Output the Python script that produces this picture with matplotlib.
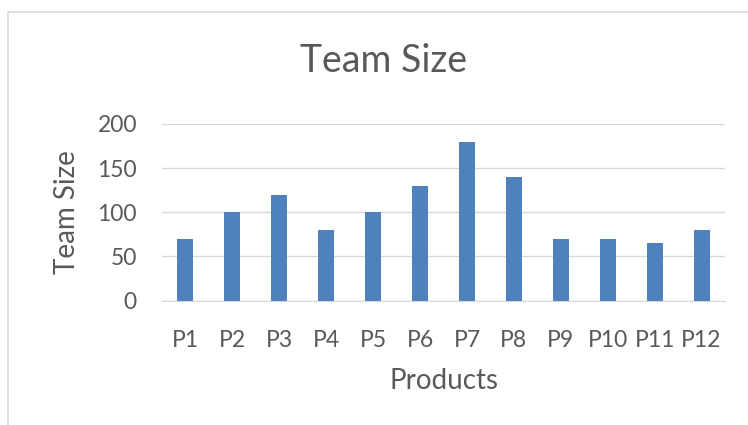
import matplotlib
matplotlib.use("Agg")
import matplotlib.pyplot as plt
from matplotlib.patches import Rectangle

categories = ["P1", "P2", "P3", "P4", "P5", "P6", "P7", "P8", "P9", "P10", "P11", "P12"]
team_size = [70, 100, 120, 80, 100, 130, 180, 140, 70, 70, 65, 80]
y_ticks = [0, 50, 100, 150, 200]

plt.rcParams['font.family'] = ['Lato', 'DejaVu Sans']

fig = plt.figure(figsize=(7.48, 4.25), dpi=100)
fig.patch.set_facecolor("white")

# chart border
fig.patches.append(Rectangle((8/748, -0.1), 2.0, 1 - 12/425 + 0.1, transform=fig.transFigure,
                             fill=False, edgecolor="#d9d9d9", linewidth=1.2))

ax = fig.add_axes([162/748, 1 - 300.5/425, (725 - 162)/748, (300.5 - 124)/425])
x = range(len(categories))
ax.bar(x, team_size, width=0.34, color="#4F81BD", zorder=3)
ax.set_xlim(-0.5, len(categories) - 0.5)
ax.set_ylim(0, 200)
ax.set_yticks(y_ticks)
ax.set_xticks(list(x))
ax.set_xticklabels(categories)
ax.grid(axis="y", color="#d9d9d9", linewidth=1, zorder=0)
for s in ["top", "right", "left"]:
    ax.spines[s].set_visible(False)
ax.spines["bottom"].set_color("#d9d9d9")
ax.tick_params(axis="both", length=0, labelsize=16.5, labelcolor="#595959")
ax.tick_params(axis="x", pad=21)
ax.tick_params(axis="y", pad=18)

fig.text(384/748, 1 - 61/425, "Team Size", ha="center", va="center", fontsize=27, color="#595959")
fig.text(67/748, 1 - 212/425, "Team Size", ha="center", va="center", rotation=90, fontsize=20, color="#595959")
fig.text(444/748, 1 - 381/425, "Products", ha="center", va="center", fontsize=20, color="#595959")

fig.savefig("out.png", dpi=100, facecolor="white")
